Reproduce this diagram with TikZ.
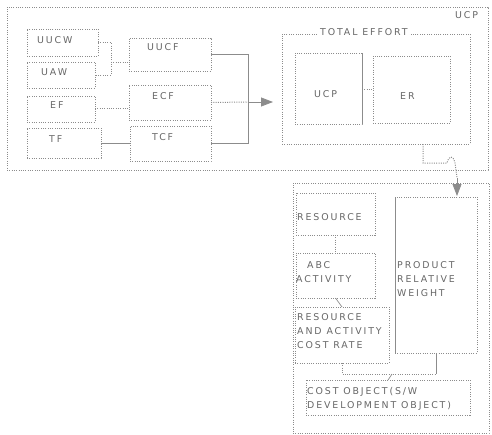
\documentclass[tikz,border=0pt]{standalone}
\usepackage{fontspec}
\setmainfont{DejaVu Sans}[LetterSpace=20]
\usetikzlibrary{arrows.meta,calc}
\definecolor{ln}{HTML}{8C8C8C}
\definecolor{tx}{HTML}{666666}
\begin{document}
\begin{tikzpicture}[x=1pt,y=-1pt,
  box/.style={draw=ln,line width=1pt,dash pattern=on 1pt off 1.3pt,inner sep=0pt,outer sep=0pt},
  dots/.style={draw=ln,line width=1pt,dash pattern=on 1pt off 1.3pt},
  solid line/.style={draw=ln,line width=0.7pt},
  lbl/.style={inner sep=0pt,anchor=north west,text=tx,font=\fontsize{9.4}{14}\selectfont,align=left},
  big/.style={-{Triangle[length=12pt,width=9pt]},color=ln}]
\useasboundingbox (0,0) rectangle (492,434);
% boxes
\node[box,minimum width=481pt,minimum height=163pt] (outer) at (247.5,88.5) {};
\node[box,minimum width=71pt,minimum height=27pt] (uucw) at (62.5,42.5) {};
\node[box,minimum width=68pt,minimum height=26pt] (uaw) at (61,75) {};
\node[box,minimum width=68pt,minimum height=26pt] (ef) at (61,109) {};
\node[box,minimum width=74pt,minimum height=30pt] (tf) at (64,143) {};
\node[box,minimum width=82pt,minimum height=33pt] (uucf) at (170,54.5) {};
\node[box,minimum width=82pt,minimum height=35pt] (ecf) at (170,102.5) {};
\node[box,minimum width=81pt,minimum height=35pt] (tcf) at (170.5,143.5) {};
\node[box,minimum width=188pt,minimum height=110pt] (te) at (376,89) {};
\node[box,minimum width=67pt,minimum height=71pt] (ucp) at (328.5,88.5) {};
\node[box,minimum width=77pt,minimum height=67pt] (er) at (411.5,89.5) {};
\node[box,minimum width=196pt,minimum height=250pt] (bot) at (391,308) {};
\node[box,minimum width=79pt,minimum height=42pt] (res) at (335.5,214) {};
\node[box,minimum width=79pt,minimum height=45pt] (abc) at (335.5,275.5) {};
\node[box,minimum width=94pt,minimum height=56pt] (racr) at (342,335) {};
\node[box,minimum width=82pt,minimum height=156pt] (prw) at (436,275) {};
\node[box,minimum width=164pt,minimum height=35pt] (cost) at (388,397.5) {};
% solid edges seen in the reference
\draw[solid line] (ucp.north east) -- (ucp.south east);
\draw[solid line] (prw.north west) -- (prw.south west);
% texts
\node[lbl] (t-ucpo) at (455,11.4) {UCP};
\node[lbl,fill=white,inner xsep=1pt] (t-te) at (319,28.4) {TOTAL EFFORT};
\node[lbl] (t-uucw) at (37,36.4) {UUCW};
\node[lbl] (t-uaw) at (41,68.4) {UAW};
\node[lbl] (t-ef) at (50,101.4) {EF};
\node[lbl] (t-tf) at (49,135.4) {TF};
\node[lbl] (t-uucf) at (147,43.4) {UUCF};
\node[lbl] (t-ecf) at (152,92.4) {ECF};
\node[lbl] (t-tcf) at (152,133.4) {TCF};
\node[lbl] (t-ucp) at (314,90.4) {UCP};
\node[lbl] (t-er) at (400,92.4) {ER};
\node[lbl] (t-res) at (297,213.4) {RESOURCE};
\node[lbl] (t-abc) at (296,261.4) {\hspace{11pt}ABC\\ACTIVITY};
\node[lbl] (t-racr) at (297,313.4) {RESOURCE\\AND ACTIVITY\\COST RATE};
\node[lbl] (t-prw) at (397,261.4) {PRODUCT\\RELATIVE\\WEIGHT};
\node[lbl] (t-cost) at (307,387.4) {COST OBJECT(S/W\\DEVELOPMENT OBJECT)};
% connectors left part
\coordinate (j1) at (111,62);
\draw[dots] (uucw.east) -| (j1) |- (uaw.east);
\draw[dots] (j1) -- (j1 -| uucf.west);
\draw[dots] (ef.east |- 0,108) -- (ecf.west |- 0,108);
\draw[solid line] (tf.east) -- (tf.east -| tcf.west);
\coordinate (jn) at (248,102);
\draw[solid line] (uucf.east) -| (jn);
\draw[solid line] (tcf.east) -| (jn);
\draw[dots] (ecf.east) -- (jn);
\draw[big,line width=0.8pt,shorten >=9pt] (jn) -- (te.west |- jn);
% inside total effort
\draw[dots] (ucp.east |- 0,89) -- (er.west |- 0,89);
% total effort to bottom part
\coordinate (tes) at ($(te.south west)!0.75!(te.south east)$);
\coordinate (h1) at (447,163);
\coordinate (h2) at (455,163);
\draw[dots] (tes) |- (h1) .. controls (449,155) and (453,155) .. (h2) -- (457,178);
\draw[big,line width=0.8pt] (457,178) -- (457,196);
% bottom part
\draw[dots] (res.south) -- (abc.south |- res.south) -- (abc.north);
\draw[solid line] (abc.south) -- (racr.north);
\coordinate (j3) at (392,374);
\draw[dots] (racr.south) |- (prw.south |- j3);
\draw[solid line] (prw.south) -- (prw.south |- j3);
\draw[solid line] (j3) -- (cost.north);
\end{tikzpicture}
\end{document}
